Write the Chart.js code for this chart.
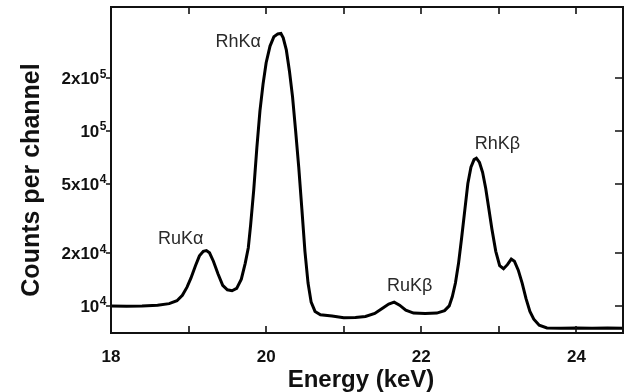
<!DOCTYPE html>
<html>
<head>
<meta charset="utf-8">
<script src="https://cdn.jsdelivr.net/npm/chart.js@4.4.0/dist/chart.umd.min.js"></script>
<style>
  html, body { margin: 0; padding: 0; background: #fff; }
</style>
</head>
<body>
<canvas id="spectrum" width="627" height="392"></canvas>
<script>
// X-ray spectrum, counts per channel vs energy (keV), log y axis
const energy = [
  18.00, 18.20, 18.40, 18.60, 18.75, 18.85, 18.92, 18.98, 19.03, 19.09,
  19.14, 19.19, 19.23, 19.27, 19.32, 19.38, 19.44, 19.50, 19.56, 19.62,
  19.68, 19.73, 19.77, 19.80, 19.84, 19.88, 19.92, 19.96, 20.00, 20.05,
  20.10, 20.15, 20.19, 20.22, 20.26, 20.30, 20.34, 20.38, 20.42, 20.46,
  20.50, 20.54, 20.58, 20.63, 20.70, 20.85, 21.00, 21.15, 21.28, 21.40,
  21.50, 21.58, 21.65, 21.72, 21.80, 21.90, 22.05, 22.20, 22.30, 22.36,
  22.40, 22.44, 22.48, 22.52, 22.56, 22.60, 22.64, 22.68, 22.71, 22.75,
  22.79, 22.83, 22.87, 22.91, 22.96, 23.01, 23.06, 23.11, 23.16, 23.20,
  23.25, 23.30, 23.35, 23.40, 23.45, 23.52, 23.62, 23.80, 24.00, 24.20,
  24.40, 24.60
];
const counts = [
  10000, 9950, 9980, 10080, 10300, 10700, 11500, 12800, 14400, 17000,
  19300, 20500, 20700, 20100, 18000, 15200, 13100, 12350, 12200, 12600,
  14200, 17500, 21500, 29000, 46000, 80000, 130000, 185000, 245000, 305000,
  345000, 358000, 360000, 340000, 290000, 220000, 157000, 100000, 62000, 36000,
  20500, 13500, 10500, 9300, 8900, 8750, 8550, 8580, 8700, 9050,
  9700, 10250, 10500, 10100, 9450, 9100, 9050, 9100, 9400, 10000,
  11300, 13500, 17500, 24500, 35000, 50000, 62000, 68500, 69800, 66000,
  58000, 47000, 36000, 27500, 20500, 17000, 16300, 17200, 18500, 18000,
  16000, 13500, 11000, 9300, 8400, 7750, 7480, 7450, 7480, 7440,
  7470, 7450
];

// peak annotations
const peakLabels = ['RuK\u03b1', 'RhK\u03b1', 'RuK\u03b2', 'RhK\u03b2'];
const peakEnergy = [18.90, 19.64, 21.85, 22.98];
const peakCount = [24200, 323000, 13000, 84300];

// axes
const xTickVals = [18, 20, 22, 24];
const xMinorTicks = [19, 20, 21, 22, 23, 24];
const yTickVals = [10000, 20000, 50000, 100000, 200000];
const yTickBase = ['10', '2x10', '5x10', '10', '2x10'];
const yTickExp = ['4', '4', '4', '5', '5'];

const FONT = '"Liberation Sans", Arial, Helvetica, sans-serif';

const framePlugin = {
  id: 'frame',
  afterDraw(chart) {
    const ctx = chart.ctx;
    const a = chart.chartArea;
    const xs = chart.scales.x, ys = chart.scales.y;
    ctx.save();
    ctx.strokeStyle = '#111';
    ctx.lineWidth = 2;
    ctx.strokeRect(a.left, a.top, a.right - a.left, a.bottom - a.top);

    ctx.lineWidth = 1.6;
    ctx.beginPath();
    xMinorTicks.forEach(v => {
      const px = Math.round(xs.getPixelForValue(v));
      ctx.moveTo(px, a.bottom); ctx.lineTo(px, a.bottom - 7);
      ctx.moveTo(px, a.top); ctx.lineTo(px, a.top + 7);
    });
    yTickVals.forEach(v => {
      const py = Math.round(ys.getPixelForValue(v));
      ctx.moveTo(a.left - 5, py); ctx.lineTo(a.left, py);
      ctx.moveTo(a.right, py); ctx.lineTo(a.right - 8, py);
    });
    ctx.stroke();

    // y tick labels with raised exponents
    ctx.fillStyle = '#111';
    ctx.textBaseline = 'alphabetic';
    ctx.textAlign = 'left';
    yTickVals.forEach((v, i) => {
      const py = ys.getPixelForValue(v);
      ctx.font = 'bold 12px ' + FONT;
      const ew = ctx.measureText(yTickExp[i]).width;
      ctx.font = 'bold 17px ' + FONT;
      const bw = ctx.measureText(yTickBase[i]).width;
      const x0 = a.left - 5 - ew - bw;
      ctx.fillText(yTickBase[i], x0, py + 6);
      ctx.font = 'bold 12px ' + FONT;
      ctx.fillText(yTickExp[i], x0 + bw + 0.5, py - 0.5);
    });

    // peak names
    ctx.fillStyle = '#2a2a2a';
    ctx.font = '18px ' + FONT;
    ctx.textAlign = 'center';
    ctx.textBaseline = 'middle';
    peakLabels.forEach((t, i) => {
      ctx.fillText(t, xs.getPixelForValue(peakEnergy[i]), ys.getPixelForValue(peakCount[i]));
    });

    // axis titles
    ctx.fillStyle = '#111';
    ctx.font = 'bold 24px ' + FONT;
    ctx.fillText('Energy (keV)', 361, 380);
    ctx.font = 'bold 25px ' + FONT;
    ctx.translate(32, 180);
    ctx.rotate(-Math.PI / 2);
    ctx.fillText('Counts per channel', 0, 0);
    ctx.restore();
  }
};

new Chart(document.getElementById('spectrum'), {
  type: 'line',
  data: {
    datasets: [{
      label: 'Spectrum',
      data: energy.map((e, i) => ({ x: e, y: counts[i] })),
      borderColor: '#000',
      borderWidth: 3,
      pointRadius: 0,
      tension: 0,
      fill: false
    }]
  },
  options: {
    responsive: false,
    animation: false,
    devicePixelRatio: 1,
    layout: { padding: { left: 0, right: 4, top: 7, bottom: 0 } },
    plugins: {
      legend: { display: false },
      tooltip: { enabled: false }
    },
    scales: {
      x: {
        type: 'linear',
        min: 18,
        max: 24.6,
        afterBuildTicks: s => { s.ticks = xTickVals.map(v => ({ value: v })); },
        afterFit: s => { s.height = 59; },
        grid: { display: false, drawTicks: false },
        border: { display: false },
        ticks: {
          color: '#111',
          padding: 14,
          maxRotation: 0,
          font: { family: FONT, size: 17, weight: 'bold' }
        }
      },
      y: {
        type: 'logarithmic',
        min: 7000,
        max: 510000,
        afterBuildTicks: s => { s.ticks = yTickVals.map(v => ({ value: v })); },
        afterFit: s => { s.width = 111; },
        grid: { display: false, drawTicks: false },
        border: { display: false },
        ticks: { display: false }
      }
    }
  },
  plugins: [framePlugin]
});
</script>
</body>
</html>
